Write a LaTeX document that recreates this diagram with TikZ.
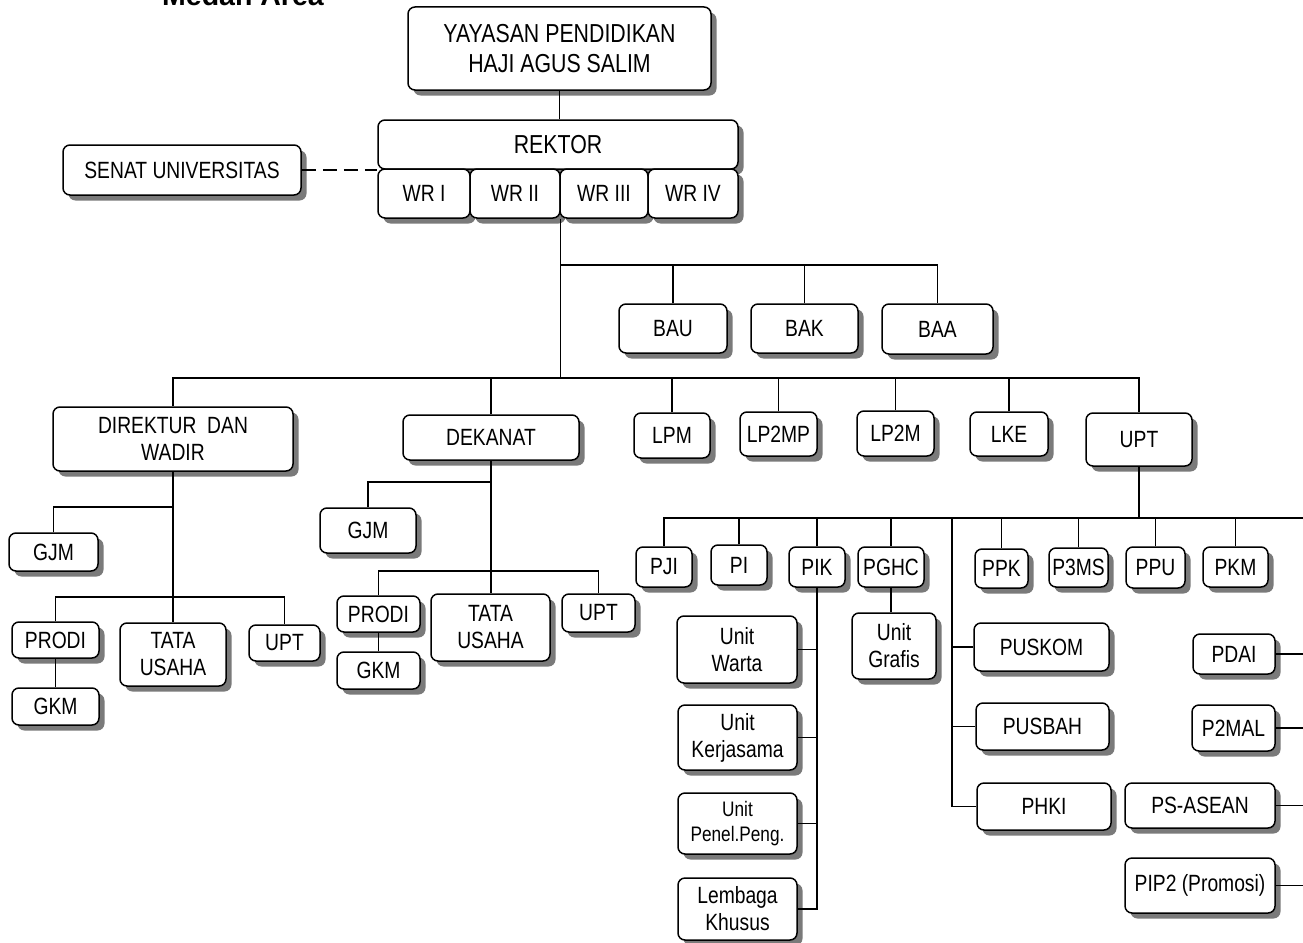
\documentclass[tikz,border=0pt]{standalone}
\usepackage{fontspec}
\setmainfont{Liberation Sans}[FakeStretch=0.82]
\newfontfamily\titlefont{Liberation Sans}
\usetikzlibrary{shadows}
\tikzset{
  orgbox/.style={draw=black, line width=1.5pt, rounded corners=7pt, fill=white,
    align=center, inner sep=0pt, font=\fontsize{23.5}{27}\selectfont,
    drop shadow={shadow xshift=5.5pt, shadow yshift=-5.5pt, fill=black!52, opacity=1}},
  bigtext/.style={font=\fontsize{26}{30}\selectfont},
  link/.style={draw=black, line width=1.4pt},
  dashlink/.style={link, dash pattern=on 14pt off 7pt},
}
% \ob[options]{name}{x1}{y1}{x2}{y2}{text}: box given by its corners
\newcommand\ob[7][]{%
  \node[orgbox, minimum width={#5pt-#3pt}, minimum height={#6pt-#4pt}, #1]
    (#2) at ({(#3+#5)/2},{(#4+#6)/2}) {#7};}
\begin{document}
\begin{tikzpicture}[x=1pt, y=-1pt]
\useasboundingbox (0,0) rectangle (1303,942);
\fill[white] (0,0) rectangle (1303,942);

\node[font=\titlefont\bfseries\fontsize{28.5}{28.5}\selectfont, anchor=base] (title) at (243,6) {Medan Area};

% top levels
\ob[bigtext]{yay}{408}{7}{711}{90}{YAYASAN PENDIDIKAN\\HAJI AGUS SALIM}
\ob[bigtext]{rek}{378}{120}{738}{169}{REKTOR}
\ob{wr1}{378}{169}{470}{218}{WR I}
\ob{wr2}{470}{169}{560}{218}{WR II}
\ob{wr3}{560}{169}{648}{218}{WR III}
\ob{wr4}{648}{169}{738}{218}{WR IV}
\ob{senat}{63}{145}{301}{195}{SENAT UNIVERSITAS}

\ob{bau}{619}{304}{727}{353}{BAU}
\ob{bak}{751}{304}{858}{353}{BAK}
\ob{baa}{882}{304}{993}{354}{BAA}

\ob{dir}{53}{407}{293}{471}{DIREKTUR~ DAN\\WADIR}
\ob{dek}{403}{415}{579}{460}{DEKANAT}
\ob{lpm}{634}{413}{710}{458}{LPM}
\ob{lptmp}{740}{412}{817}{456}{LP2MP}
\ob{lptm}{857}{411}{934}{456}{LP2M}
\ob{lke}{970}{412}{1048}{456}{LKE}
\ob{upt}{1086}{413}{1192}{466}{UPT}

% under the director
\ob{gjmL}{9}{533}{98}{571}{GJM}
\ob{prodiL}{12}{622}{99}{658}{PRODI}
\ob{gkmL}{12}{688}{99}{725}{GKM}
\ob{tuL}{120}{623}{226}{686}{TATA\\USAHA}
\ob{uptL}{249}{625}{320}{661}{UPT}

% under the dean
\ob{gjmD}{320}{508}{416}{553}{GJM}
\ob{prodiD}{337}{596}{420}{632}{PRODI}
\ob{gkmD}{337}{652}{420}{689}{GKM}
\ob{tuD}{431}{594}{550}{661}{TATA\\USAHA}
\ob{uptD}{562}{594}{635}{632}{UPT}

% under UPT
\ob{pji}{636}{547}{692}{587}{PJI}
\ob{pi}{711}{545}{767}{585}{PI}
\ob{pik}{789}{547}{845}{587}{PIK}
\ob{pghc}{858}{547}{924}{587}{PGHC}
\ob{grafis}{852}{613}{936}{679}{Unit\\Grafis}
\ob{warta}{677}{616}{797}{683}{Unit\\Warta}
\ob{kerja}{678}{705}{797}{770}{Unit\\Kerjasama}
\ob[font=\fontsize{21}{25}\selectfont]{penel}{678}{793}{797}{854}{Unit\\Penel.Peng.}
\ob{lembaga}{678}{878}{797}{940}{Lembaga\\Khusus}
\ob{ppk}{975}{549}{1028}{588}{PPK}
\ob{pms}{1049}{548}{1108}{587}{P3MS}
\ob{ppu}{1126}{547}{1185}{588}{PPU}
\ob{pkm}{1203}{547}{1268}{587}{PKM}
\ob{puskom}{974}{623}{1109}{671}{PUSKOM}
\ob{pusbah}{976}{703}{1109}{750}{PUSBAH}
\ob{phki}{977}{783}{1111}{830}{PHKI}
\ob{pdai}{1193}{634}{1275}{674}{PDAI}
\ob{pmal}{1192}{705}{1275}{751}{P2MAL}
\ob{psasean}{1125}{783}{1275}{828}{PS-ASEAN}
\ob{pip}{1125}{858}{1275}{913}{PIP2 (Promosi)}

% junction levels
\coordinate (barB) at (0,265);
\coordinate (barL) at (0,378);
\coordinate (barU) at (0,518);
\coordinate (edgeR) at (1303,0);
\coordinate (trunk) at (wr2.south east);
\coordinate (vline) at (952,518);

% connectors
\draw[link] (yay.south) -- (yay.south |- rek.north);
\draw[dashlink] (senat.east) -- (senat.east -| rek.west);
\draw[link] (trunk) -- (trunk |- barL);
\draw[link] (trunk |- barB) -| (baa.north);
\draw[link] (bau.north) -- (bau.north |- barB);
\draw[link] (bak.north) -- (bak.north |- barB);

\draw[link] (dir.north) -- (dir.north |- barL) -- (upt.north |- barL) -- (upt.north);
\foreach \n in {dek,lpm,lptmp,lptm,lke}
  \draw[link] (\n.north) -- (\n.north |- barL);

% director branch
\draw[link] (dir.south) -- (dir.south |- tuL.north);
\draw[link] (gjmL.north) |- (dir.south |- 0,507);
\draw[link] (prodiL.north) -- (prodiL.north |- 0,597) -| (uptL.north);
\draw[link] (prodiL.south) -- (gkmL.north);

% dean branch
\draw[link] (dek.south) -- (dek.south |- tuD.north);
\draw[link] (gjmD.north) |- (dek.south |- 0,482);
\draw[link] (prodiD.north) -- (prodiD.north |- 0,571) -| (uptD.north);
\draw[link] (prodiD.south) -- (gkmD.north);

% UPT branch
\draw[link] (upt.south) -- (upt.south |- barU);
\draw[link] (pji.north) -- (pji.north |- barU) -- (edgeR |- barU);
\foreach \n in {pi,pik,pghc,ppk,pms,ppu,pkm}
  \draw[link] (\n.north) -- (\n.north |- barU);
\draw[link] (pghc.south) -- (pghc.south |- grafis.north);
\draw[link] (pik.south) |- (lembaga.east);
\foreach \n in {warta,kerja,penel}
  \draw[link] (\n.east) -- (\n.east -| pik.south);
\draw[link] (vline) |- (phki.west);
\foreach \n in {puskom,pusbah}
  \draw[link] (\n.west) -- (\n.west -| vline);
\foreach \n in {pdai,pmal,psasean,pip}
  \draw[link] (\n.east) -- (\n.east -| edgeR);
\end{tikzpicture}
\end{document}
